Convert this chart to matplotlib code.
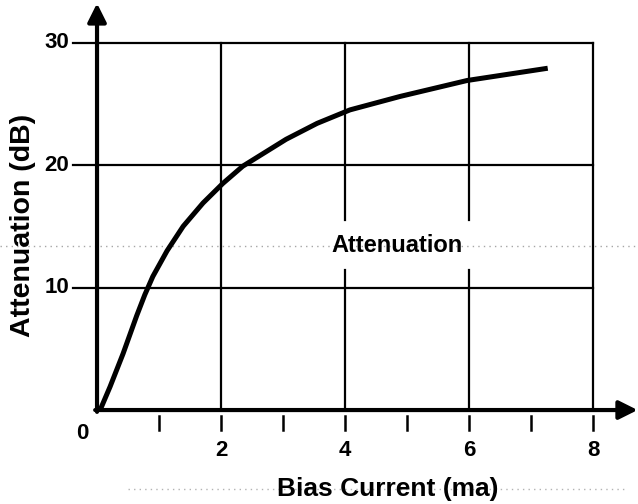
import numpy as np
import matplotlib.pyplot as plt

plt.rcParams['font.family'] = ['Liberation Sans', 'DejaVu Sans']
plt.rcParams['font.weight'] = 'bold'

# curve
bias = [0.05, 0.21, 0.42, 0.64, 0.77, 0.9, 1.13, 1.39, 1.71, 2.03, 2.35,
        2.7, 3.05, 3.55, 4.08, 4.89, 5.97, 7.27]
atten = [0.0, 1.9, 4.6, 7.7, 9.4, 10.9, 13.0, 15.0, 16.9, 18.5, 19.9,
         21.0, 22.1, 23.4, 24.5, 25.6, 26.9, 27.9]

x_major = [2, 4, 6, 8]
x_minor = [1, 3, 5, 7]
y_major = [10, 20, 30]
x_labels = ['2', '4', '6', '8']
y_labels = ['10', '20', '30']

fig = plt.figure(figsize=(6.38, 5.04), dpi=100)
ax = fig.add_axes([0, 0, 1, 1])
ax.set_xlim(-1.565, 8.726)
ax.set_ylim(-7.67, 33.47)
ax.axis('off')

# faint scan noise
ax.plot([-1.565, 8.726], [13.35, 13.35], color='0.65', lw=1, ls=(0, (1, 3)), zorder=0)
ax.plot([0.5, 8.5], [-6.45, -6.45], color='0.7', lw=1, ls=(0, (1, 3)), zorder=0)

# grid
for y in y_major:
    ax.plot([-0.38, 8], [y, y], color='black', lw=1.6, zorder=1)
ax.plot([2, 2], [0, 30], color='black', lw=1.6, zorder=1)
ax.plot([8, 8], [0, 30], color='black', lw=1.6, zorder=1)
for x in [4, 6]:
    ax.plot([x, x], [15.5, 30], color='black', lw=1.6, zorder=1)
    ax.plot([x, x], [0, 11.4], color='black', lw=1.6, zorder=1)

# ticks under x axis
for x in x_major + x_minor:
    ax.plot([x, x], [-0.5, -1.6], color='black', lw=1.8)

# axes with arrows
ax.annotate('', xy=(0, 33.2), xytext=(0, -0.15),
            arrowprops=dict(arrowstyle='-|>', lw=3, color='black', mutation_scale=28,
                            shrinkA=0, shrinkB=0))
ax.annotate('', xy=(8.72, 0), xytext=(-0.03, 0),
            arrowprops=dict(arrowstyle='-|>', lw=3, color='black', mutation_scale=28,
                            shrinkA=0, shrinkB=0))

ax.plot(bias, atten, color='black', lw=3.6, solid_capstyle='butt',
        solid_joinstyle='round', zorder=3)

for x, lab in zip(x_major, x_labels):
    ax.text(x, -3.3, lab, ha='center', va='center', fontsize=16, fontweight='bold')
ax.text(-0.24, -1.95, '0', ha='center', va='center', fontsize=16, fontweight='bold')
for y, lab in zip(y_major, y_labels):
    ax.text(-0.45, y, lab, ha='right', va='center', fontsize=16, fontweight='bold')

ax.text(4.84, 13.4, 'Attenuation', ha='center', va='center', fontsize=17, fontweight='bold')
ax.text(4.69, -6.45, 'Bias Current (ma)', ha='center', va='center', fontsize=19,
        fontweight='bold')
ax.text(-1.2, 15.1, 'Attenuation (dB)', ha='center', va='center', rotation=90,
        fontsize=20.5, fontweight='bold')

fig.savefig('out.png', dpi=100)
